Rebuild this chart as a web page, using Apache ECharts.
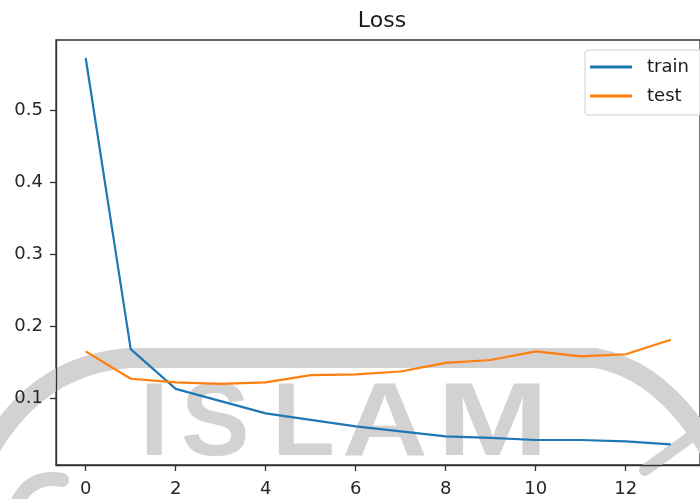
<!DOCTYPE html>
<html>
<head>
<meta charset="utf-8">
<script src="https://cdn.jsdelivr.net/npm/echarts@6/dist/echarts.min.js"></script>
<style>
html,body{margin:0;padding:0;background:#fff;}
#chart{width:700px;height:499px;}
</style>
</head>
<body>
<div id="chart"></div>
<script>
const chartTitle = 'Loss';
const epochs = [0, 1, 2, 3, 4, 5, 6, 7, 8, 9, 10, 11, 12, 13];
const trainLoss = [0.572, 0.168, 0.113, 0.096, 0.079, 0.070, 0.061, 0.054, 0.047, 0.045, 0.042, 0.042, 0.040, 0.036];
const testLoss  = [0.165, 0.127, 0.122, 0.120, 0.122, 0.132, 0.133, 0.137, 0.149, 0.153, 0.165, 0.158, 0.161, 0.181];
const xTicks = [0, 2, 4, 6, 8, 10, 12];
const yTicks = [0.1, 0.2, 0.3, 0.4, 0.5];
const seriesNames = ['train', 'test'];
const watermarkLetters = ['I', 'S', 'L', 'A', 'M'];

const chart = echarts.init(document.getElementById('chart'), null, {renderer: 'canvas'});
const font = '"DejaVu Sans", sans-serif';
const axisColor = '#333';
const wmColor = '#d2d2d2';

const letterX = [140, 181, 272, 342, 437];
const letterScale = [1, 1, 1, 1.15, 1.3];
const wmStroke = (w) => ({fill: null, stroke: wmColor, lineWidth: w, lineCap: 'round'});
const watermark = [
  {type: 'bezierCurve', z: 0, silent: true,
   shape: {x1: -12, y1: 452, cpx1: 38, cpy1: 364, x2: 130, y2: 358}, style: wmStroke(20)},
  {type: 'line', z: 0, silent: true,
   shape: {x1: 130, y1: 358, x2: 595, y2: 358}, style: wmStroke(20)},
  {type: 'bezierCurve', z: 0, silent: true,
   shape: {x1: 595, y1: 358, cpx1: 665, cpy1: 370, x2: 714, y2: 458}, style: wmStroke(20)},
  {type: 'line', z: 0, silent: true,
   shape: {x1: 645, y1: 470, x2: 692, y2: 436}, style: wmStroke(12)},
  {type: 'bezierCurve', z: 0, silent: true,
   shape: {x1: 16, y1: 505, cpx1: 30, cpy1: 474, x2: 62, y2: 480}, style: wmStroke(14)}
].concat(watermarkLetters.map((ch, i) => ({
  type: 'text', z: 0, silent: true,
  x: letterX[i], y: 375, scaleX: letterScale[i],
  style: {text: ch, fill: wmColor, font: 'bold 103px "Liberation Sans", Arial, sans-serif',
          textAlign: 'left', textVerticalAlign: 'top'}
})));

chart.setOption({
  animation: false,
  backgroundColor: '#fff',
  title: {
    text: chartTitle, left: 377, top: 5, textAlign: 'center',
    textStyle: {fontFamily: font, fontSize: 22, fontWeight: 'normal', color: '#1a1a1a'}
  },
  legend: {
    data: seriesNames, orient: 'vertical', left: 585, top: 50,
    icon: 'rect', itemWidth: 42, itemHeight: 3, itemGap: 11,
    padding: [8, 30, 10, 5],
    backgroundColor: 'rgba(255,255,255,0.85)', borderColor: '#d0d0d0', borderWidth: 1, borderRadius: 3,
    textStyle: {fontFamily: font, fontSize: 18, color: '#1a1a1a', padding: [0, 0, 0, 10]}
  },
  grid: {left: 56, top: 40, width: 652, height: 425, show: true,
         borderColor: axisColor, borderWidth: 1.3, backgroundColor: 'transparent'},
  xAxis: {
    type: 'value', min: -0.66, max: 13.65,
    splitLine: {show: false},
    axisLine: {onZero: false, lineStyle: {color: axisColor, width: 1.3}},
    axisTick: {show: true, length: 6, lineStyle: {color: axisColor, width: 1.3}, customValues: xTicks},
    axisLabel: {fontFamily: font, fontSize: 18, color: '#262626', margin: 15, customValues: xTicks}
  },
  yAxis: {
    type: 'value', min: 0.0073, max: 0.597,
    splitLine: {show: false},
    axisLine: {show: true, onZero: false, lineStyle: {color: axisColor, width: 1.3}},
    axisTick: {show: true, length: 6, lineStyle: {color: axisColor, width: 1.3}, customValues: yTicks},
    axisLabel: {fontFamily: font, fontSize: 18, color: '#262626', margin: 13, customValues: yTicks,
                formatter: v => v.toFixed(1)}
  },
  graphic: watermark,
  series: [
    {name: seriesNames[0], type: 'line', data: epochs.map((e, i) => [e, trainLoss[i]]),
     showSymbol: false, symbol: 'none', z: 3, lineStyle: {color: '#1f77b4', width: 2.2}, itemStyle: {color: '#1f77b4'}},
    {name: seriesNames[1], type: 'line', data: epochs.map((e, i) => [e, testLoss[i]]),
     showSymbol: false, symbol: 'none', z: 3, lineStyle: {color: '#ff7f0e', width: 2.2}, itemStyle: {color: '#ff7f0e'}}
  ]
});
</script>
</body>
</html>
